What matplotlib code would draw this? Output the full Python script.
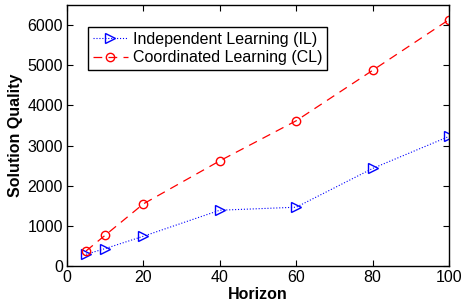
import matplotlib
matplotlib.use("Agg")
import matplotlib.pyplot as plt

horizon = [5, 10, 20, 40, 60, 80, 100]
il_values = [292, 434, 741, 1389, 1464, 2429, 3227]
cl_values = [375, 766, 1547, 2619, 3617, 4872, 6135]
xticks = [0, 20, 40, 60, 80, 100]
yticks = [0, 1000, 2000, 3000, 4000, 5000, 6000]

plt.rcParams['font.family'] = ['Liberation Sans', 'DejaVu Sans']
fig = plt.figure(figsize=(4.61, 3.04), dpi=100)
ax = fig.add_axes([0.1453, 0.125, 0.974 - 0.1453, 0.9836 - 0.125])

ax.plot(horizon, il_values, linestyle=':', color='blue', marker='>', markerfacecolor='none',
        markeredgecolor='blue', markersize=6.5, linewidth=0.8, label='Independent Learning (IL)')
ax.plot(horizon, cl_values, linestyle=(0, (7, 5)), color='red', marker='o', markerfacecolor='none',
        markeredgecolor='red', markersize=6, linewidth=0.9, label='Coordinated Learning (CL)')

ax.set_xlim(0, 100)
ax.set_ylim(0, 6500)
ax.set_xticks(xticks)
ax.set_yticks(yticks)
ax.tick_params(direction='in', top=True, right=True, labelsize=11.5, length=4, width=0.8, pad=3)
for s in ax.spines.values():
    s.set_linewidth(1.0)
ax.set_xlabel('Horizon', fontsize=11.5, fontweight='bold', labelpad=1)
ax.set_ylabel('Solution Quality', fontsize=11.5, fontweight='bold', labelpad=3)

leg = ax.legend(loc='upper left', bbox_to_anchor=(0.055, 0.915), fontsize=11.5, frameon=True,
                fancybox=False, edgecolor='black', framealpha=1, handlelength=2.2,
                handletextpad=0.3, borderpad=0.3, labelspacing=0.2, borderaxespad=0)
leg.get_frame().set_linewidth(1.0)

fig.savefig('out.png', dpi=100)
